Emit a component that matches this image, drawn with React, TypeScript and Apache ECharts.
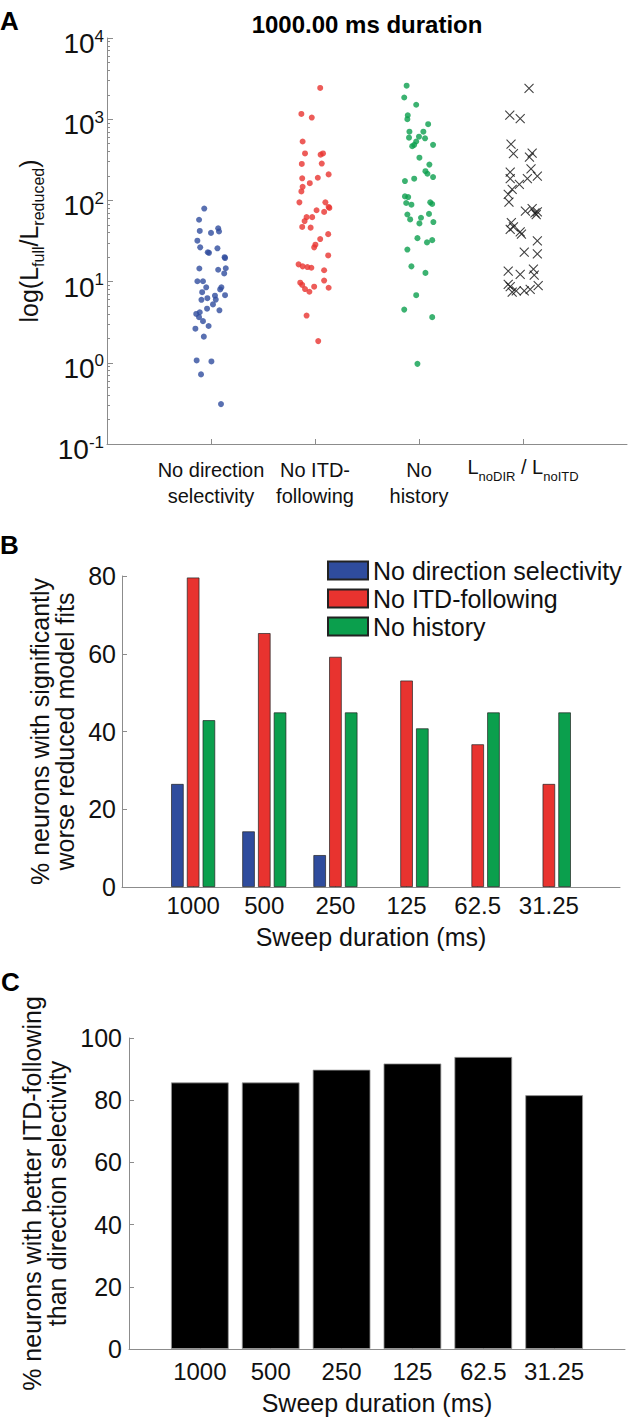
import { useEffect, useRef } from 'react';
import * as echarts from 'echarts';

const FONT = "'Liberation Sans', Arial, Helvetica, sans-serif";
const TXT = '#111111';
const AXIS = '#8c8c8c';
const BLUE = '#2f4c9d';
const RED = '#e8332f';
const GREEN = '#0b9f4d';

// ---------- Panel A data ----------
const panelATitle = '1000.00 ms duration';
const scatterLabels = [
  'No direction\nselectivity',
  'No ITD-\nfollowing',
  'No\nhistory',
  '{L|L}{s|noDIR}{L| / L}{s|noITD}',
];
const scatterCategoryPos = [1, 2, 3, 4];
const logTickValues = [0.1, 1, 10, 100, 1000, 10000];

const noDirectionPoints: [number, number][] = [
  [0.935, 79.3], [0.885, 57.8], [0.892, 42.1], [1.069, 45.4], [1.077, 41.5],
  [1.0, 39.8], [0.869, 31.9], [0.896, 26.4], [1.062, 25.7], [0.969, 23.0],
  [0.981, 22.6], [1.131, 20.0], [1.135, 19.5], [0.888, 14.5], [1.069, 14.0],
  [1.142, 14.6], [1.127, 12.6], [0.869, 10.1], [0.923, 10.1], [0.954, 8.5],
  [1.1, 8.5], [1.088, 8.0], [0.915, 7.4], [1.135, 6.8], [1.038, 6.7],
  [0.965, 6.25], [0.908, 5.97], [1.046, 6.0], [1.019, 5.24], [0.962, 4.64],
  [1.081, 4.43], [0.858, 4.0], [0.892, 4.19], [0.885, 3.65], [0.923, 3.26],
  [0.977, 2.84], [0.85, 2.63], [0.931, 2.1], [0.862, 1.07], [1.004, 1.04],
  [0.904, 0.72], [1.096, 0.31],
];

const noItdPoints: [number, number][] = [
  [2.05, 2427], [1.869, 1161], [1.969, 1047], [1.881, 531], [1.904, 379],
  [2.054, 366], [2.077, 379], [1.873, 281], [2.065, 284], [2.131, 209],
  [1.877, 187], [2.027, 190], [1.95, 163], [1.881, 147], [1.869, 129],
  [1.85, 94.6], [2.1, 94.6], [2.131, 83], [2.088, 72.2], [2.138, 80.7],
  [2.015, 75.6], [1.919, 62.2], [1.973, 62.2], [1.9, 55.6], [1.877, 47.1],
  [1.958, 46.2], [2.05, 33.4], [2.127, 38.4], [2.004, 28.5], [1.992, 26.4],
  [2.127, 21.0], [1.842, 16.3], [1.881, 15.4], [1.927, 15.1], [1.965, 14.8],
  [2.088, 13.8], [2.088, 10.3], [1.858, 9.7], [1.877, 9.1], [1.992, 8.65],
  [2.131, 8.4], [1.904, 8.1], [1.946, 7.5], [1.919, 3.82], [2.031, 1.85],
];

const noHistoryPoints: [number, number][] = [
  [2.881, 2588], [2.858, 1849], [2.973, 1507], [2.892, 1119], [2.888, 1000],
  [3.088, 868], [2.908, 702], [3.042, 702], [2.904, 593], [3.0, 609],
  [3.058, 582], [2.973, 531], [2.954, 483], [2.935, 465], [3.135, 483],
  [3.004, 336], [3.1, 276], [3.062, 229], [3.081, 213], [3.135, 194],
  [2.954, 185], [2.865, 173], [2.865, 112], [2.896, 110], [2.877, 92.9],
  [2.927, 88.6], [3.108, 94.6], [3.127, 90.3], [2.888, 67], [2.915, 58.3],
  [3.019, 61.1], [3.096, 68.2], [3.138, 54.1], [3.004, 52.1], [2.985, 34.3],
  [3.127, 32.4], [3.077, 30.4], [2.888, 24.8], [2.927, 15.4], [3.062, 12.8],
  [2.973, 6.8], [2.858, 4.52], [3.127, 3.65], [2.985, 0.97],
];

const ratioPoints: [number, number][] = [
  [4.058, 2403], [3.873, 1119], [3.973, 1019], [3.885, 492], [3.908, 376],
  [4.088, 383], [4.062, 342], [3.877, 223], [4.077, 245], [4.138, 199],
  [4.042, 185], [3.877, 185], [3.965, 158], [3.896, 137], [3.858, 119],
  [3.865, 95.4], [4.023, 73.6], [4.088, 79.2], [4.115, 70.2], [4.127, 67],
  [4.138, 72.2], [3.888, 53.1], [3.908, 47.1], [3.877, 44], [3.973, 40.9],
  [3.985, 38.4], [4.138, 31.8], [4.012, 23], [4.138, 21.9], [3.858, 13.5],
  [3.973, 12.3], [4.1, 14.2], [4.108, 12], [3.858, 9.25], [3.877, 8.65],
  [3.935, 7.67], [4.012, 7.67], [4.069, 8.03], [4.146, 8.9], [3.896, 7.4],
];

// ---------- Panel B / C data ----------
const legendNames = ['No direction selectivity', 'No ITD-following', 'No history'];
const durations = ['1000', '500', '250', '125', '62.5', '31.25'];
const noDirectionPct = [26.5, 14.3, 8.2, 0, 0, 0];
const noItdPct = [79.6, 65.3, 59.2, 53.1, 36.7, 26.5];
const noHistoryPct = [42.9, 44.9, 44.9, 40.8, 44.9, 44.9];
const betterItdPct = [85.7, 85.7, 89.8, 91.8, 93.9, 81.6];
const yTicksB = [0, 20, 40, 60, 80];
const yTicksC = [0, 20, 40, 60, 80, 100];

// zero-height bars are not drawn (no visible mark in the figure)
const pad = (arr: number[]) => [null, ...arr.map((v) => (v === 0 ? '-' : v)), null];
const paddedCats = ['', ...durations, ''];

const minorLogTicks: number[] = [];
for (let e = -1; e < 4; e++) {
  for (let m = 2; m <= 9; m++) minorLogTicks.push(m * Math.pow(10, e));
}

const catAxis = (gridIndex: number, margin: number, nameGap: number) => ({
  type: 'category',
  gridIndex,
  data: paddedCats,
  boundaryGap: false,
  axisLine: { show: true, lineStyle: { color: AXIS, width: 1 } },
  axisTick: {
    show: true,
    inside: true,
    length: 5,
    interval: (i: number) => i > 0 && i < paddedCats.length - 1,
    lineStyle: { color: AXIS },
  },
  axisLabel: { interval: 0, fontSize: 24, lineHeight: 24, margin, color: TXT, fontFamily: FONT },
  splitLine: { show: false },
  name: 'Sweep duration (ms)',
  nameLocation: 'middle',
  nameGap,
  nameTextStyle: { fontSize: 25, lineHeight: 25, color: TXT, fontFamily: FONT },
});

const valAxis = (
  gridIndex: number,
  max: number,
  ticks: number[],
  name: string,
  nameGap: number,
  margin: number,
) => ({
  type: 'value',
  gridIndex,
  min: 0,
  max,
  interval: 20,
  axisLine: { show: true, lineStyle: { color: AXIS, width: 1 } },
  axisTick: { show: true, inside: true, length: 5, customValues: ticks, lineStyle: { color: AXIS } },
  axisLabel: { customValues: ticks, fontSize: 25, margin, color: TXT, fontFamily: FONT },
  splitLine: { show: false },
  name,
  nameLocation: 'middle',
  nameRotate: 90,
  nameGap,
  nameTextStyle: { fontSize: 25, lineHeight: 25, color: TXT, fontFamily: FONT, align: 'center' },
});

const option: any = {
  animation: false,
  backgroundColor: '#ffffff',
  textStyle: { fontFamily: FONT },
  graphic: [
    { type: 'text', left: 0, top: 8, style: { text: 'A', font: `bold 26px ${FONT}`, fill: '#000' } },
    { type: 'text', left: 0, top: 532, style: { text: 'B', font: `bold 26px ${FONT}`, fill: '#000' } },
    { type: 'text', left: 1, top: 969, style: { text: 'C', font: `bold 26px ${FONT}`, fill: '#000' } },
    {
      type: 'text',
      x: 367,
      y: 24,
      style: {
        text: panelATitle,
        font: `bold 24px ${FONT}`,
        fill: '#000',
        textAlign: 'center',
        textVerticalAlign: 'middle',
      },
    },
  ],
  grid: [
    { left: 107, top: 38, width: 520, height: 406 },
    { left: 122, top: 576, width: 498, height: 311 },
    { left: 129, top: 1038, width: 499, height: 311 },
  ],
  legend: {
    data: legendNames,
    orient: 'vertical',
    left: 322,
    top: 553,
    itemWidth: 40,
    itemHeight: 18,
    itemGap: 3,
    icon: 'rect',
    textStyle: { fontSize: 25, lineHeight: 25, color: TXT, fontFamily: FONT },
  },
  xAxis: [
    {
      type: 'value',
      gridIndex: 0,
      min: 0,
      max: 5,
      interval: 1,
      axisLine: { show: true, onZero: false, lineStyle: { color: AXIS, width: 1 } },
      axisTick: { show: true, inside: true, length: 5, customValues: scatterCategoryPos, lineStyle: { color: AXIS } },
      axisLabel: {
        customValues: scatterCategoryPos,
        formatter: (v: number) => scatterLabels[Math.round(v) - 1] ?? '',
        fontSize: 20,
        lineHeight: 26,
        margin: 13,
        color: TXT,
        fontFamily: FONT,
        rich: {
          L: { fontSize: 20, lineHeight: 26, verticalAlign: 'top', color: TXT, fontFamily: FONT },
          s: { fontSize: 13, lineHeight: 13, verticalAlign: 'bottom', color: TXT, fontFamily: FONT },
        },
      },
      splitLine: { show: false },
    },
    catAxis(1, 6, 37),
    catAxis(2, 10, 41),
  ],
  yAxis: [
    {
      type: 'log',
      logBase: 10,
      gridIndex: 0,
      min: 0.1,
      max: 10000,
      axisLine: { show: true, lineStyle: { color: AXIS, width: 1 } },
      axisTick: { show: true, inside: true, length: 6, customValues: logTickValues, lineStyle: { color: AXIS } },
      axisLabel: {
        customValues: logTickValues,
        margin: 3,
        padding: [9, 0, 0, 0],
        formatter: (v: number) => `{b|10}{sup|${Math.round(Math.log10(v))}}`,
        rich: {
          b: { fontSize: 28, lineHeight: 30, verticalAlign: 'bottom', color: TXT, fontFamily: FONT },
          sup: { fontSize: 17, lineHeight: 17, verticalAlign: 'top', color: TXT, fontFamily: FONT },
        },
      },
      splitLine: { show: false },
      name: '{n|log(L}{s|full}{n|/L}{s|reduced}{n|)}',
      nameLocation: 'middle',
      nameRotate: 90,
      nameGap: 52,
      nameTextStyle: {
        rich: {
          n: { fontSize: 25, lineHeight: 30, verticalAlign: 'top', color: TXT, fontFamily: FONT },
          s: { fontSize: 16, lineHeight: 16, verticalAlign: 'bottom', color: TXT, fontFamily: FONT },
        },
      },
    },
    {
      type: 'log',
      logBase: 10,
      gridIndex: 0,
      position: 'left',
      min: 0.1,
      max: 10000,
      axisLine: { show: false },
      axisTick: { show: true, inside: true, length: 3, customValues: minorLogTicks, lineStyle: { color: AXIS } },
      axisLabel: { show: false },
      splitLine: { show: false },
    },
    valAxis(1, 80, yTicksB, '% neurons with significantly\nworse reduced model fits', 41, 6),
    valAxis(2, 100, yTicksC, '% neurons with better ITD-following\nthan direction selectivity', 48, 7),
  ],
  series: [
    {
      type: 'scatter', name: 'A no direction', xAxisIndex: 0, yAxisIndex: 0,
      data: noDirectionPoints, symbol: 'circle', symbolSize: 6, itemStyle: { color: BLUE },
    },
    {
      type: 'scatter', name: 'A no ITD', xAxisIndex: 0, yAxisIndex: 0,
      data: noItdPoints, symbol: 'circle', symbolSize: 6, itemStyle: { color: RED },
    },
    {
      type: 'scatter', name: 'A no history', xAxisIndex: 0, yAxisIndex: 0,
      data: noHistoryPoints, symbol: 'circle', symbolSize: 6, itemStyle: { color: GREEN },
    },
    {
      type: 'scatter', name: 'A ratio', xAxisIndex: 0, yAxisIndex: 0,
      data: ratioPoints, symbol: 'path://M0,0L10,10M10,0L0,10', symbolSize: 9,
      itemStyle: { color: 'none', borderColor: '#111', borderWidth: 1.1 },
    },
    {
      type: 'bar', name: legendNames[0], xAxisIndex: 1, yAxisIndex: 2,
      data: pad(noDirectionPct), barWidth: 12.5, barGap: '26%',
      itemStyle: { color: BLUE, borderColor: '#222', borderWidth: 0.7 },
    },
    {
      type: 'bar', name: legendNames[1], xAxisIndex: 1, yAxisIndex: 2,
      data: pad(noItdPct), barWidth: 12.5, barGap: '26%',
      itemStyle: { color: RED, borderColor: '#222', borderWidth: 0.7 },
    },
    {
      type: 'bar', name: legendNames[2], xAxisIndex: 1, yAxisIndex: 2,
      data: pad(noHistoryPct), barWidth: 12.5, barGap: '26%',
      itemStyle: { color: GREEN, borderColor: '#222', borderWidth: 0.7 },
    },
    {
      type: 'bar', name: 'Better ITD-following', xAxisIndex: 2, yAxisIndex: 3,
      data: pad(betterItdPct), barWidth: 57.7,
      itemStyle: { color: '#000', borderColor: '#9a9a9a', borderWidth: 0.8 },
    },
  ],
};

export default function App() {
  const ref = useRef<HTMLDivElement>(null);
  useEffect(() => {
    document.body.style.margin = '0';
    const chart = echarts.init(ref.current!, null, { renderer: 'svg' });
    chart.setOption(option);
    return () => chart.dispose();
  }, []);
  return <div ref={ref} style={{ width: 628, height: 1422 }} />;
}
